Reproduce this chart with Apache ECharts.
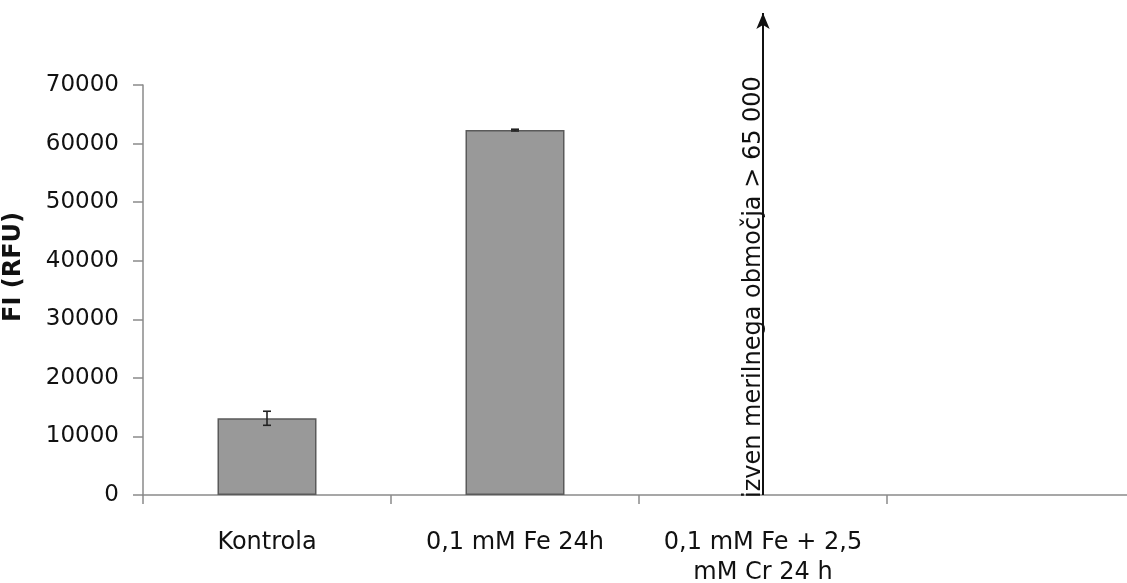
<!DOCTYPE html>
<html>
<head>
<meta charset="utf-8">
<script src="https://cdn.jsdelivr.net/npm/echarts@6/dist/echarts.min.js"></script>
<style>
  html, body { margin: 0; padding: 0; background: #fff; }
  #chart { width: 1127px; height: 583px; }
</style>
</head>
<body>
<div id="chart"></div>
<script>
// Data
const categories = ['Kontrola', '0,1 mM Fe 24h', '0,1 mM Fe + 2,5\nmM Cr 24 h', ''];
const fiValues = [13100, 62300, null, null];
const fiErrors = [1200, 150, null, null];
const yMin = 0;
const yMax = 70000;
const yInterval = 10000;
// annotation: third sample is out of measuring range, arrow goes above the axis
const outOfRangeLabel = 'izven merilnega območja > 65 000';
const outOfRangeCategory = categories[2];
const arrowTop = 82300;

const FONT = 'DejaVu Sans';

function initChart() {
    const chart = echarts.init(document.getElementById('chart'), null, { renderer: 'canvas' });

    const errorData = [];
    fiValues.forEach((v, i) => {
        if (v != null && fiErrors[i] != null) errorData.push([i, v, fiErrors[i]]);
    });

    const option = {
        animation: false,
        backgroundColor: '#fff',
        grid: [
            { left: 143, right: -8, top: 85, bottom: 88, outerBoundsMode: 'none', containLabel: false },
            // same horizontal frame, taller so the arrow can run above 70000
            { left: 143, right: -8, top: 13, bottom: 88, outerBoundsMode: 'none', containLabel: false }
        ],
        xAxis: [
            {
                type: 'category',
                gridIndex: 0,
                data: categories,
                axisLine: { lineStyle: { color: '#8a8a8a', width: 1.5 } },
                axisTick: { show: true, length: 9, lineStyle: { color: '#8a8a8a', width: 1.5 } },
                axisLabel: {
                    color: '#111', fontFamily: FONT, fontSize: 24,
                    margin: 33, lineHeight: 30, interval: 0
                }
            },
            { type: 'category', gridIndex: 1, data: categories, show: false }
        ],
        yAxis: [
            {
                type: 'value',
                gridIndex: 0,
                min: yMin,
                max: yMax,
                interval: yInterval,
                name: 'FI (RFU)',
                nameLocation: 'middle',
                nameGap: 117,
                nameTextStyle: {
                    color: '#111', fontFamily: FONT, fontSize: 24, fontWeight: 'bold',
                    padding: [0, 0, 0, 46]
                },
                splitLine: { show: false },
                axisLine: { show: true, lineStyle: { color: '#8a8a8a', width: 1.5 } },
                axisTick: { show: true, length: 10, lineStyle: { color: '#8a8a8a', width: 1.5 } },
                axisLabel: {
                    color: '#111', fontFamily: FONT, fontSize: 23, margin: 24,
                    formatter: function(v) { return String(v); }
                }
            },
            { type: 'value', gridIndex: 1, min: yMin, max: arrowTop, show: false }
        ],
        series: [
            {
                name: 'FI',
                type: 'bar',
                xAxisIndex: 0,
                yAxisIndex: 0,
                data: fiValues,
                barWidth: 99,
                itemStyle: { color: '#999999', borderColor: '#5a5a5a', borderWidth: 1.5 },
                z: 2
            },
            {
                name: 'error',
                type: 'custom',
                xAxisIndex: 0,
                yAxisIndex: 0,
                data: errorData,
                z: 5,
                renderItem: function(params, api) {
                    const x = api.value(0);
                    const v = api.value(1);
                    const e = api.value(2);
                    const hi = api.coord([x, v + e]);
                    const lo = api.coord([x, v - e]);
                    const hw = 4;
                    const style = { stroke: '#222', lineWidth: 1.6 };
                    return {
                        type: 'group',
                        children: [
                            { type: 'line', shape: { x1: hi[0], y1: hi[1], x2: lo[0], y2: lo[1] }, style: style },
                            { type: 'line', shape: { x1: hi[0] - hw, y1: hi[1], x2: hi[0] + hw, y2: hi[1] }, style: style },
                            { type: 'line', shape: { x1: lo[0] - hw, y1: lo[1], x2: lo[0] + hw, y2: lo[1] }, style: style }
                        ]
                    };
                }
            },
            {
                name: 'out of range',
                type: 'line',
                xAxisIndex: 1,
                yAxisIndex: 1,
                data: [[outOfRangeCategory, yMin]],
                showSymbol: false,
                lineStyle: { opacity: 0 },
                silent: true,
                markLine: {
                    silent: true,
                    animation: false,
                    symbol: ['none', 'arrow'],
                    symbolSize: [10, 16],
                    lineStyle: { color: '#111', width: 2, type: 'solid' },
                    label: {
                        show: true,
                        position: 'insideStartTop',
                        distance: -3,
                        formatter: outOfRangeLabel,
                        color: '#111',
                        fontFamily: FONT,
                        fontSize: 24
                    },
                    data: [[
                        { coord: [outOfRangeCategory, yMin] },
                        { coord: [outOfRangeCategory, arrowTop] }
                    ]]
                }
            }
        ]
    };

    chart.setOption(option);
}

document.addEventListener('DOMContentLoaded', initChart);
</script>
</body>
</html>
